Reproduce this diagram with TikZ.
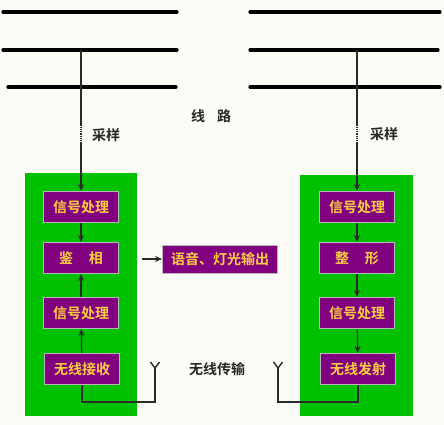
\documentclass[tikz,border=0pt]{standalone}
\usepackage{fontspec}
\newfontfamily\cjk{Noto Sans CJK SC Bold}
\usetikzlibrary{arrows.meta}
\definecolor{paper}{HTML}{FDFBF6}
\definecolor{boxpurple}{HTML}{800080}
\definecolor{boxgreen}{HTML}{00C000}
\definecolor{txtgold}{HTML}{FFCF40}
\definecolor{wire}{HTML}{2A2A2A}
\tikzset{
  blk/.style={draw=gray!55, line width=1pt, fill=boxpurple, text=txtgold,
    font=\cjk\fontsize{14}{14}\selectfont, minimum width=75pt, minimum height=31pt, inner sep=0pt},
  flow/.style={-{Stealth[length=7pt,width=6pt]}, wire, line width=1.2pt},
  lbl/.style={font=\cjk\fontsize{14}{14}\selectfont, text=black!85},
  bus/.style={line width=3.2pt, line cap=round, black},
}
\begin{document}
\begin{tikzpicture}[x=1pt, y=-1pt]
  \useasboundingbox[fill=paper] (0,0) rectangle (444,425);
  % power lines
  \foreach \y/\a/\b in {12/3/177, 50/3/177, 87/8/176}
    \draw[bus] (\a,\y) -- (\b,\y);
  \foreach \y/\a/\b in {12/250/440, 50/250/438, 87/250/440}
    \draw[bus] (\a,\y) -- (\b,\y);
  \node[lbl] (line) at (211,116) {线\hspace{12pt}路};
  % receiving side
  \fill[boxgreen] (25,173) rectangle (137,416);
  \node[blk] (lsig1) at (81,207) {信号处理};
  \node[blk] (ljx) at (81,258) {鉴\hspace{16pt}相};
  \node[blk] (lsig2) at (81,313) {信号处理};
  \node[blk] (lrx) at (82,369) {无线接收};
  \node[blk, minimum width=115pt, minimum height=28pt] (out) at (220,259) {语音、灯光输出};
  % sending side
  \fill[boxgreen] (300,175) rectangle (413,416);
  \node[blk] (rsig1) at (357,207) {信号处理};
  \node[blk] (rzx) at (357,258) {整\hspace{16pt}形};
  \node[blk] (rsig2) at (357,313) {信号处理};
  \node[blk] (rtx) at (358,369) {无线发射};
  % sampling taps
  \coordinate (ltap) at (81,50);
  \coordinate (rtap) at (357,50);
  \foreach \t/\s in {ltap/lsig1, rtap/rsig1} {
    \draw[wire, line width=1.1pt] (\t) -- ++(0,75) coordinate (cut1);
    \draw[wire, line width=1.1pt, densely dotted] (cut1) -- ++(0,18) coordinate (cut2);
    \draw[flow] (cut2) -- (\s);
  }
  \node[lbl] (samp1) at (106,135) {采样};
  \node[lbl] (samp2) at (384,134) {采样};
  % chains
  \draw[flow] (lsig1) -- (ljx);
  \draw[flow] (lsig2) -- (ljx);
  \draw[flow] (lrx) -- (lsig2);
  \foreach \a/\b in {rsig1/rzx, rzx/rsig2, rsig2/rtx}
    \draw[flow] (\a) -- (\b);
  \coordinate (ljxo) at (142,259);
  \draw[flow] (ljxo) -- (out);
  % antennas
  \coordinate (lant) at (155,368);
  \coordinate (rant) at (278,368);
  \draw[wire, line width=1.4pt] (lrx.south) -- ++(0,17) -| (lant);
  \draw[wire, line width=1.4pt] (rtx.south) -- ++(0,17) -| (rant);
  \foreach \a in {lant, rant}
    \draw[wire, line width=1.4pt] (\a) -- ++(-4.5,-6) (\a) -- ++(4.5,-6);
  \node[lbl] (air) at (217,369) {无线传输};
\end{tikzpicture}
\end{document}
